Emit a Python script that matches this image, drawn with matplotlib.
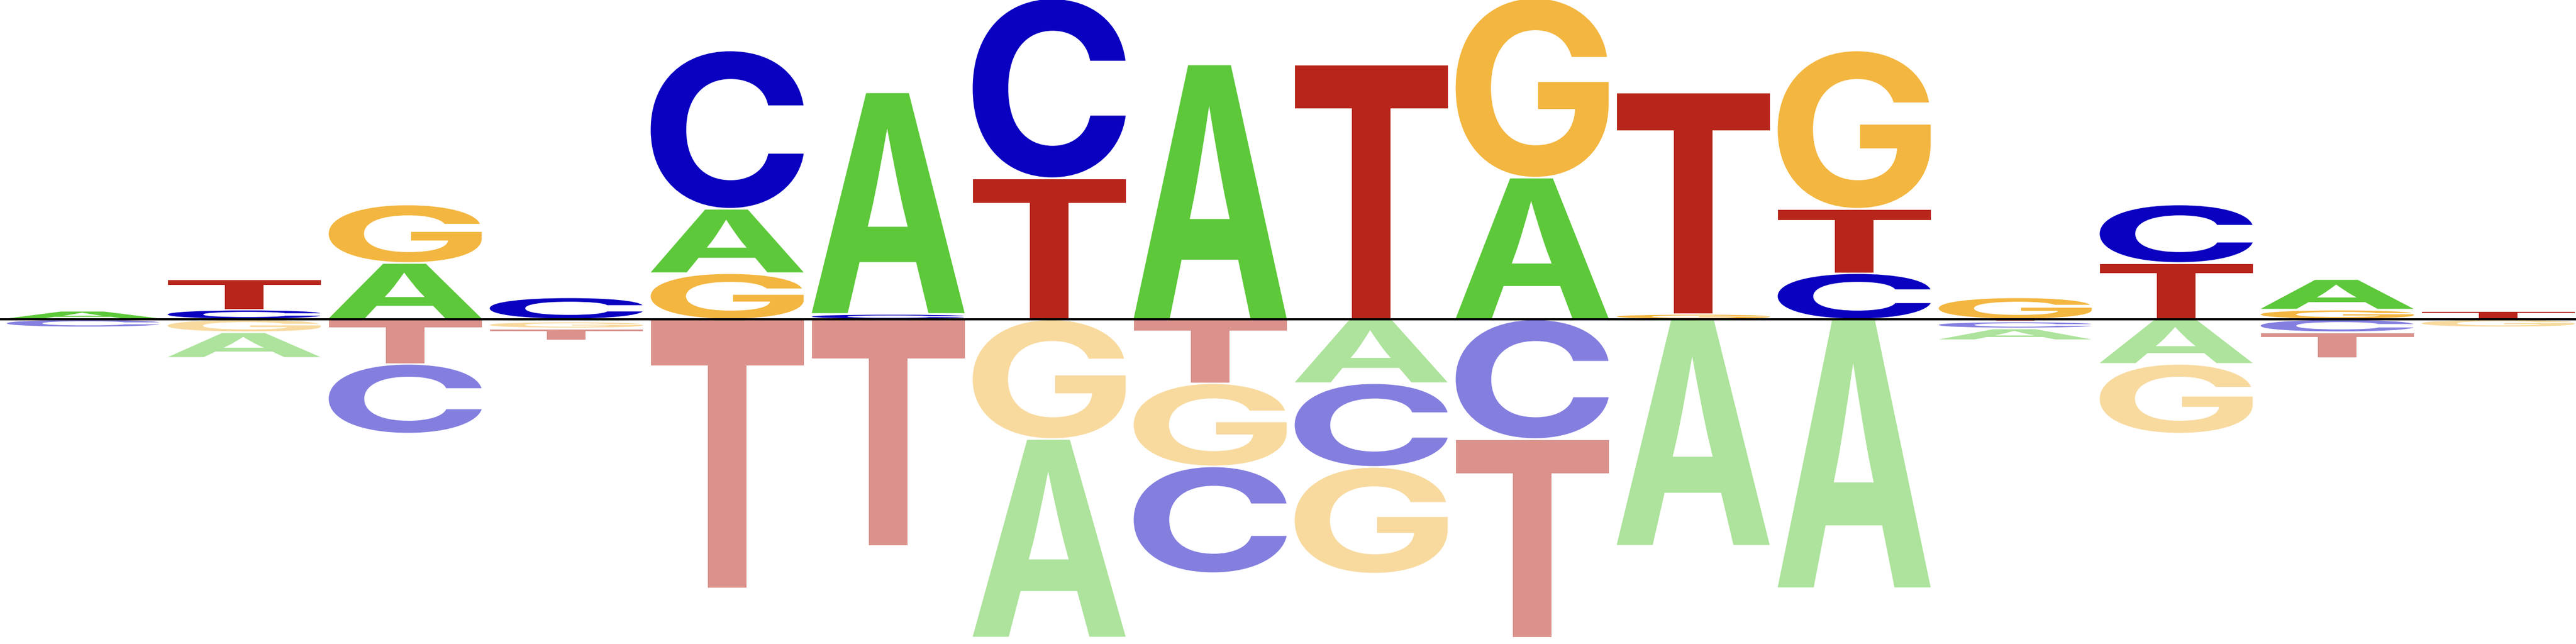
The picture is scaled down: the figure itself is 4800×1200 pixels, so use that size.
import matplotlib
matplotlib.use('Agg')
import matplotlib.pyplot as plt
from matplotlib.textpath import TextPath
from matplotlib.patches import PathPatch
from matplotlib.font_manager import FontProperties
from matplotlib.transforms import Affine2D

# positions along the motif
positions = list(range(1, 17))

# letter heights above the line (logo units)
pos_A = [0.16, 0, 1.05, 0, 1.20, 4.13, 0, 4.75, 0, 2.64, 0, 0, 0, 0, 0.57, 0]
pos_C = [0, 0.18, 0, 0.41, 2.95, 0.10, 3.35, 0, 0, 0, 0, 0.86, 0, 1.09, 0, 0]
pos_G = [0, 0, 1.09, 0, 0.86, 0, 0, 0, 0, 3.35, 0.10, 2.95, 0.41, 0, 0.18, 0]
pos_T = [0, 0.57, 0, 0, 0, 0, 2.63, 0, 4.75, 0, 4.13, 1.20, 0, 1.05, 0, 0.16]

# letter heights below the line
neg_A = [0, 0.48, 0, 0.04, 0, 0, 3.70, 0, 1.19, 0, 4.22, 5.01, 0.22, 0.83, 0, 0]
neg_C = [0.15, 0, 1.30, 0, 0, 0, 0, 1.99, 1.56, 2.23, 0, 0, 0.13, 0, 0.24, 0]
neg_G = [0, 0.24, 0, 0.13, 0, 0, 2.23, 1.55, 1.99, 0, 0, 0, 0, 1.30, 0, 0.15]
neg_T = [0, 0, 0.83, 0.22, 5.01, 4.22, 0, 1.19, 0, 3.70, 0, 0, 0.04, 0, 0.48, 0]

colors = {'A': '#5dc83a', 'C': '#0a00c0', 'G': '#f3b640', 'T': '#b8261b'}

font = FontProperties(family='Inter', weight='bold')
glyphs = {b: TextPath((0, 0), b, size=1, prop=font) for b in 'ACGT'}


def draw_letter(ax, base, x, y, w, h, alpha):
    path = glyphs[base]
    ext = path.get_extents()
    tr = (Affine2D()
          .translate(-ext.x0, -ext.y0)
          .scale(w / ext.width, h / ext.height)
          .translate(x - w / 2, y))
    patch = PathPatch(tr.transform_path(path), facecolor=colors[base],
                      edgecolor='none', lw=0, alpha=alpha)
    ax.add_patch(patch)


def draw_stack(ax, x, heights, sign, alpha, pad=0.015, width=0.95):
    y = 0.0
    for base, h in sorted(heights.items(), key=lambda kv: kv[1]):
        if h <= 0:
            continue
        gh = h - 2 * pad
        if gh > 0:
            if sign > 0:
                draw_letter(ax, base, x, y + pad, width, gh, alpha)
            else:
                draw_letter(ax, base, x, -(y + h - pad), width, gh, alpha)
        y += h


fig = plt.figure(figsize=(48, 12), dpi=100)
ax = fig.add_axes([0, 0, 1, 1])
ax.axis('off')

for i, x in enumerate(positions):
    up = {'A': pos_A[i], 'C': pos_C[i], 'G': pos_G[i], 'T': pos_T[i]}
    down = {'A': neg_A[i], 'C': neg_C[i], 'G': neg_G[i], 'T': neg_T[i]}
    draw_stack(ax, x, up, 1, 1.0)
    draw_stack(ax, x, down, -1, 0.5)

ax.axhline(0, color='black', lw=2.9, zorder=5)
ax.set_xlim(0.4833, 16.4833)
ax.set_ylim(-6.05, 5.95)

fig.savefig('out.png', dpi=100, facecolor='white')
